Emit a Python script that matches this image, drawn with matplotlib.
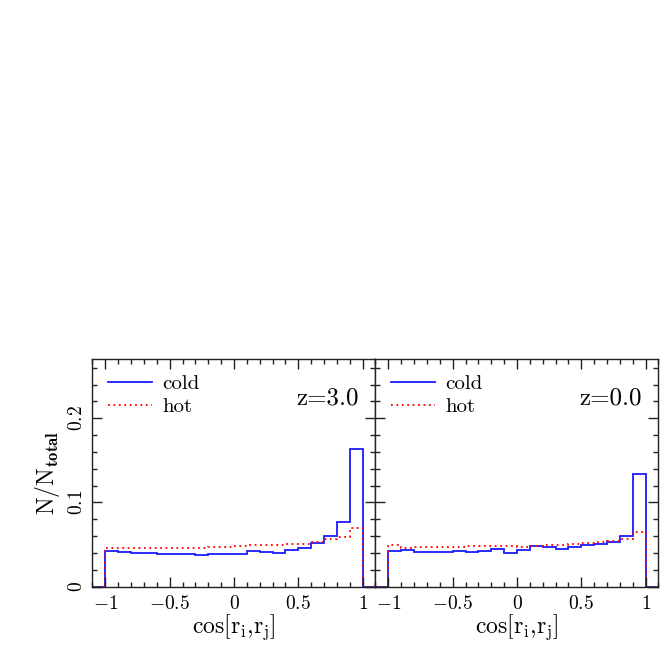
import numpy as np
import matplotlib
matplotlib.use("Agg")
import matplotlib.pyplot as plt
from matplotlib.ticker import MultipleLocator

plt.rcParams['mathtext.fontset'] = 'cm'

# histogram bins of cos angle, 20 bins over [-1, 1]
bin_edges = np.linspace(-1.0, 1.0, 21)

cold_z3 = [0.0428, 0.0416, 0.0404, 0.0396, 0.0392, 0.0388, 0.0384, 0.0380, 0.0384, 0.0388,
           0.0388, 0.0420, 0.0416, 0.0400, 0.0432, 0.0464, 0.0520, 0.0600, 0.0772, 0.1630]
hot_z3 = [0.0464, 0.0464, 0.0456, 0.0456, 0.0460, 0.0460, 0.0460, 0.0460, 0.0476, 0.0476,
          0.0488, 0.0496, 0.0500, 0.0500, 0.0504, 0.0512, 0.0528, 0.0564, 0.0596, 0.0694]
cold_z0 = [0.0424, 0.0440, 0.0416, 0.0416, 0.0412, 0.0424, 0.0412, 0.0420, 0.0444, 0.0404,
           0.0436, 0.0480, 0.0468, 0.0444, 0.0472, 0.0500, 0.0508, 0.0536, 0.0600, 0.1337]
hot_z0 = [0.0496, 0.0464, 0.0468, 0.0476, 0.0476, 0.0472, 0.0484, 0.0480, 0.0480, 0.0484,
          0.0476, 0.0488, 0.0492, 0.0496, 0.0504, 0.0516, 0.0532, 0.0540, 0.0568, 0.0647]

panels = [("z=3.0", cold_z3, hot_z3), ("z=0.0", cold_z0, hot_z0)]

xticks = [-1, -0.5, 0, 0.5, 1]
xtick_labels = [r'$-1$', r'$-0.5$', r'$0$', r'$0.5$', r'$1$']
yticks = [0, 0.1, 0.2]
ytick_labels = [r'$0$', r'$0.1$', r'$0.2$']

fig = plt.figure(figsize=(6.64, 6.64), dpi=100)
ax1 = fig.add_axes([0.1393, 0.1164, 0.4262, 0.3425])
ax2 = fig.add_axes([0.5655, 0.1164, 0.4262, 0.3425])

# pad with empty bins so the baseline runs to the frame
edges = np.concatenate([[-1.2], bin_edges, [1.2]])

for ax, (zlab, cold, hot) in zip([ax1, ax2], panels):
    ax.stairs(np.concatenate([[0], cold, [0]]), edges, color='#1a1aff', lw=1.3, label='cold')
    ax.stairs(np.concatenate([[0], hot, [0]]), edges, color='#ff0000', lw=1.3, ls=(0, (1, 2)),
              label='hot')
    ax.set_xlim(-1.1, 1.1)
    ax.set_ylim(0, 0.27)
    ax.set_xticks(xticks)
    ax.set_xticklabels(xtick_labels, fontsize=14)
    ax.xaxis.set_minor_locator(MultipleLocator(0.1))
    ax.yaxis.set_minor_locator(MultipleLocator(0.02))
    ax.tick_params(which='both', direction='in', top=True, right=True, width=1.0, color='#222222')
    ax.tick_params(which='major', length=7, pad=5)
    ax.tick_params(which='minor', length=3.6)
    for sp in ax.spines.values():
        sp.set_linewidth(1.0)
        sp.set_color('#222222')
    ax.set_xlabel(r'$\mathrm{cos[r_i{,}r_j]}$', fontsize=17, labelpad=0)
    ax.text(0.94, 0.83, zlab, transform=ax.transAxes, ha='right', va='center',
            fontsize=18, fontfamily='cmr10')
    ax.legend(loc='upper left', frameon=False, handlelength=2.1, handletextpad=0.5,
              labelspacing=0.2, borderaxespad=0.35, prop={'family': 'cmr10', 'size': 15})

ax1.set_yticks(yticks)
ax1.set_yticklabels(ytick_labels, fontsize=14, rotation=90, va='center')
ax1.set_ylabel(r'$\mathrm{N/N_{\mathbf{total}}}$', fontsize=17, labelpad=3)
ax2.set_yticks(yticks)
ax2.set_yticklabels([])

fig.savefig('out.png', dpi=100)
